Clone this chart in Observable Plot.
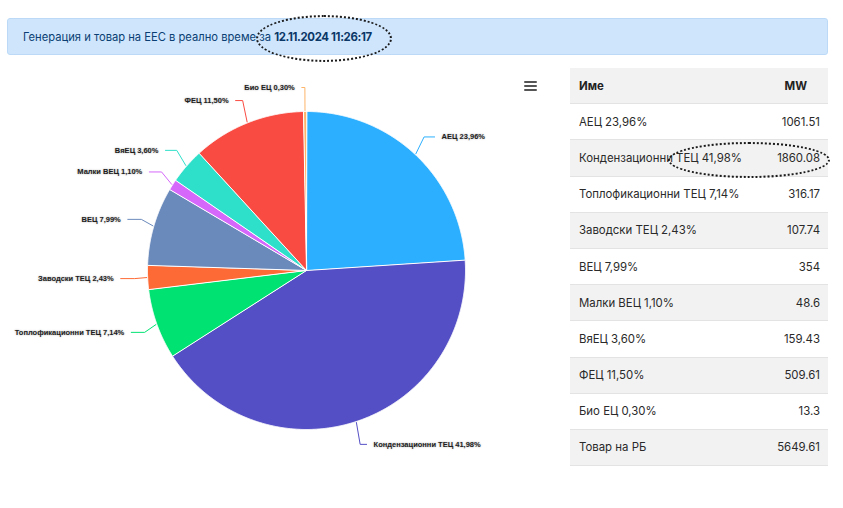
<!DOCTYPE html>
<html><head><meta charset="utf-8">
<script src="https://cdn.jsdelivr.net/npm/d3@7"></script>
<script src="https://cdn.jsdelivr.net/npm/@observablehq/plot@0.6"></script>
<style>
html,body{margin:0;padding:0;background:#fff;}
body{width:843px;height:508px;overflow:hidden;position:relative;font-family:Inter,"Liberation Sans",sans-serif;}
#banner{position:absolute;left:7px;top:18px;width:821px;height:37px;background:#cfe5fc;border:1px solid #bcdaf7;box-sizing:border-box;border-radius:3px;color:#0b3f73;font-size:11.2px;line-height:37px;padding-left:15px;white-space:nowrap;}
#banner b{font-weight:700;color:#0a3766;letter-spacing:-0.35px;font-size:11.4px;}
#chart{position:absolute;left:0;top:60px;}
#chart text.lbl{text-shadow:0 0 2px rgba(0,0,0,0.35);}
#menu{position:absolute;left:522px;top:78px;}
#tbl{position:absolute;left:570px;top:68px;width:258px;font-size:11.4px;color:#2a2a2a;}
.row{display:flex;justify-content:space-between;align-items:center;height:36.2px;padding:0 8px 0 9px;box-sizing:border-box;border-bottom:1px solid #e3e3e3;}
.row.g{background:#f2f2f2;}
.row.h{font-weight:700;color:#222;padding-right:21px;}
.ell{position:absolute;border:2px dotted #1a1a1a;border-radius:50%;box-sizing:border-box;}
</style></head>
<body>
<div id="banner"></div>
<div id="chart"></div>
<svg id="menu" width="18" height="16"><g stroke="#555" stroke-width="2" stroke-linecap="round"><line x1="3" x2="14" y1="4" y2="4"/><line x1="3" x2="14" y1="8" y2="8"/><line x1="3" x2="14" y1="12" y2="12"/></g></svg>
<div id="tbl"></div>
<div class="ell" style="left:256px;top:15px;width:136px;height:47px;"></div>
<div class="ell" style="left:668px;top:142px;width:162px;height:36px;"></div>
<script>
// ---- data ----
const titleText = "Генерация и товар на ЕЕС в реално време за";
const timestamp = "12.11.2024 11:26:17";
const names = ["АЕЦ","Кондензационни ТЕЦ","Топлофикационни ТЕЦ","Заводски ТЕЦ","ВЕЦ","Малки ВЕЦ","ВяЕЦ","ФЕЦ","Био ЕЦ"];
const mw = [1061.51,1860.08,316.17,107.74,354,48.6,159.43,509.61,13.3];
const pct = [23.96,41.98,7.14,2.43,7.99,1.10,3.60,11.50,0.30];
const totalName = "Товар на РБ";
const totalMW = 5649.61;
const headers = ["Име","MW"];
const colors = ["#2caffe","#544fc5","#00e272","#fe6a35","#6b8abc","#d568fb","#2ee0ca","#fa4b42","#feb56a"];

const fmtPct = v => v.toFixed(2).replace(".", ",") + "%";

// banner
document.getElementById("banner").innerHTML = titleText + " <b>" + timestamp + "</b>";

// table
const tbl = document.getElementById("tbl");
const trows = [{a:headers[0], b:headers[1], h:true}]
  .concat(names.map((n,i)=>({a:n+" "+fmtPct(pct[i]), b:String(mw[i])})))
  .concat([{a:totalName, b:String(totalMW)}]);
trows.forEach((r,i)=>{
  const d=document.createElement("div");
  d.className="row"+(i%2===0?" g":"")+(r.h?" h":"");
  d.innerHTML=`<span>${r.a}</span><span>${r.b}</span>`;
  tbl.appendChild(d);
});

// pie
const W=560,H=448,CX=306,CY=210,R=159,D=24;
const rows = names.map((name,i)=>({name, mw:mw[i], pct:pct[i]}));
const arcs = d3.pie().sort(null).value(d=>d.mw)(rows);
const slicePts = arcs.flatMap(a=>{
  const n=Math.max(2,Math.ceil((a.endAngle-a.startAngle)/0.004));
  const pts=[{name:a.data.name,x:0,y:0}];
  for(let k=0;k<=n;k++){const t=a.startAngle+(a.endAngle-a.startAngle)*k/n;pts.push({name:a.data.name,x:R*Math.sin(t),y:R*Math.cos(t)});}
  return pts;
});
const labels = arcs.map(a=>{
  const m=(a.startAngle+a.endAngle)/2, s=Math.sin(m), c=Math.cos(m);
  return {name:a.data.name, text:a.data.name+" "+fmtPct(a.data.pct), right:s>=0, s, c, ax:(R+D)*s, ay:(R+D)*c};
});
const connPts = labels.flatMap(l=>[
  {name:l.name,x:(R+1)*l.s,y:(R+1)*l.c},
  {name:l.name,x:(R+13)*l.s,y:l.ay},
  {name:l.name,x:l.ax+(l.right?3:-3),y:l.ay}
]);
const txtOpts = {y:"ay", text:"text", fontSize:7.5, fontWeight:"bold", fill:"#1e1e1e", fontFamily:"'Liberation Sans',Arial,sans-serif"};
const chart = Plot.plot({
  width:W, height:H, margin:0,
  x:{domain:[-CX,W-CX], range:[0,W], axis:null},
  y:{domain:[CY-H,CY], range:[H,0], axis:null},
  color:{domain:names, range:colors},
  marks:[
    Plot.line(slicePts,{x:"x",y:"y",z:"name",fill:"name",stroke:"#fff",strokeWidth:1,curve:"linear-closed"}),
    Plot.line(connPts,{x:"x",y:"y",z:"name",stroke:"name",strokeWidth:1}),
    Plot.text(labels.filter(d=>d.right),{...txtOpts,x:d=>d.ax+10,textAnchor:"start"}),
    Plot.text(labels.filter(d=>!d.right),{...txtOpts,x:d=>d.ax-10,textAnchor:"end"})
  ]
});
chart.querySelectorAll("text").forEach(t=>t.classList.add("lbl"));
document.getElementById("chart").appendChild(chart);
</script>
</body></html>
